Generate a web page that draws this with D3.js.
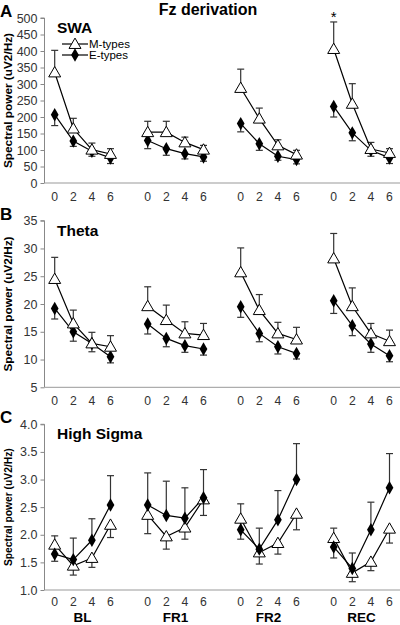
<!DOCTYPE html>
<html><head><meta charset="utf-8">
<script src="https://cdn.jsdelivr.net/npm/d3@7"></script>
<style>body{margin:0;background:#fff}svg{display:block}text{font-family:"Liberation Sans",Arial,sans-serif}</style>
</head><body>
<script>
const groups = ["BL","FR1","FR2","REC"];
const hours = ["0","2","4","6"];

const swaM    = [335,165,101,88, 154,154,123,101, 288,195,114,86, 406,240,103,91];
const swaMErr = [67,31,20,16, 33,33,16,13, 57,32,17,13, 82,61,20,13];
const swaE    = [207,127,96,76, 129,104,89,79, 180,119,81,71, 232,152,99,76];
const swaEErr = [33,16,15,17, 25,20,16,13, 25,20,12,13, 32,24,18,17];

const thM    = [24.5,16.5,12.9,12.3, 19.6,17.1,14.7,14.4, 25.7,18.9,14.7,13.6, 28.2,19.6,14.7,13.3];
const thMErr = [3.9,2.4,2.0,2.0, 3.5,2.7,2.1,2.1, 4.4,2.8,2.0,2.2, 4.5,3.3,1.8,2.0];
const thE    = [19.2,15.0,12.9,10.5, 16.4,13.8,12.5,11.9, 19.5,14.7,12.3,11.1, 20.6,16.1,12.8,10.7];
const thEErr = [1.9,1.7,1.5,1.1, 1.8,1.5,1.2,1.1, 1.9,1.5,1.3,1.0, 2.3,1.8,1.5,1.1];

const sgM    = [1.82,1.44,1.58,2.18, 2.36,1.97,2.13,2.64, 2.29,1.68,1.85,2.38, 1.94,1.31,1.51,2.11];
const sgMErr = [0.30,0.17,0.17,0.23, 0.34,0.23,0.21,0.29, 0.37,0.21,0.20,0.29, 0.36,0.16,0.16,0.26];
const sgE    = [1.65,1.55,1.90,2.54, 2.54,2.35,2.30,2.67, 2.09,1.74,2.27,3.00, 1.78,1.39,2.09,2.85];
const sgEErr = [0.33,0.39,0.39,0.53, 0.58,0.62,0.55,0.51, 0.47,0.38,0.53,0.65, 0.34,0.28,0.50,0.62];

const swaTicks = [0,50,100,150,200,250,300,350,400,450,500];
const thTicks = [5,10,15,20,25,30,35];
const sgTicks = [1.0,1.5,2.0,2.5,3.0,3.5,4.0];

const W = 400, H = 625;
const svg = d3.select("body").append("svg").attr("width", W).attr("height", H);

// category slot index: 5 slots per group (4 points + gap)
const slot = (g, h) => g * 5 + h;
const x = d3.scaleLinear().domain([0, 18]).range([54.7, 389.5]);

const panels = [
  {letter:"A", name:"SWA", top:18, bottom:183, domain:[0,500], ticks:swaTicks, fmt:d3.format("d"),
   M:swaM, Me:swaMErr, E:swaE, Ee:swaEErr, mUp:true, labelFont:11.8, legend:true, tickDy:17.5},
  {letter:"B", name:"Theta", top:220.7, bottom:387.3, domain:[5,35], ticks:thTicks, fmt:d3.format("d"),
   M:thM, Me:thMErr, E:thE, Ee:thEErr, mUp:true, labelFont:11.8, tickDy:17.5},
  {letter:"C", name:"High Sigma", top:424.3, bottom:590, domain:[1,4], ticks:sgTicks, fmt:d3.format(".1f"),
   M:sgM, Me:sgMErr, E:sgE, Ee:sgEErr, mUp:false, labelFont:10.3, groupLabels:true, tickDy:16}
];

const axisX = 44.5;
const tri = d3.symbol().type(d3.symbolTriangle).size(62);
const dia = d3.symbol().type(d3.symbolDiamond).size(52);

panels.forEach(p => {
  const y = d3.scaleLinear().domain(p.domain).range([p.bottom, p.top]);
  const g = svg.append("g");

  // y axis
  const ya = g.append("g").attr("transform", `translate(${axisX},0)`)
    .call(d3.axisLeft(y).tickValues(p.ticks).tickFormat(p.fmt).tickSize(4).tickPadding(3));
  ya.select(".domain").attr("stroke", "#888").attr("d", `M-4,${y(p.domain[1])}H0V${y(p.domain[0])}`);
  ya.selectAll(".tick line").attr("stroke", "#888");
  ya.selectAll(".tick text").attr("font-size", 12.5).attr("fill", "#333")
    .attr("font-family", "Liberation Sans, Arial, sans-serif");

  // x axis line
  g.append("line").attr("x1", axisX).attr("x2", W).attr("y1", p.bottom).attr("y2", p.bottom)
    .attr("stroke", "#999").attr("stroke-width", 1);

  // x tick labels
  groups.forEach((gn, gi) => {
    hours.forEach((h, hi) => {
      g.append("text").attr("x", x(slot(gi, hi))).attr("y", p.bottom + p.tickDy)
        .attr("text-anchor", "middle").attr("font-size", 12.2).attr("fill", "#333").text(h);
    });
    if (p.groupLabels) {
      g.append("text").attr("x", (x(slot(gi,0)) + x(slot(gi,3))) / 2).attr("y", p.bottom + 32)
        .attr("text-anchor", "middle").attr("font-size", 13.5).attr("font-weight", "bold").text(gn);
    }
  });

  // panel letter
  g.append("text").attr("x", 0).attr("y", p.top - 1).attr("font-size", 17).attr("font-weight", "bold").text(p.letter);

  // y label
  g.append("text").attr("transform", `translate(12,${(p.top + p.bottom) / 2}) rotate(-90)`)
    .attr("text-anchor", "middle").attr("font-size", p.labelFont).attr("font-weight", "bold")
    .text("Spectral power (uV2/Hz)");

  // panel name
  g.append("text").attr("x", 57).attr("y", p.top + 15).attr("font-size", 15.5).attr("font-weight", "bold").text(p.name);

  // build point data
  const pts = [];
  groups.forEach((gn, gi) => hours.forEach((h, hi) => {
    const k = gi * 4 + hi;
    pts.push({gi, hi, xs: x(slot(gi, hi)), m: p.M[k], me: p.Me[k], e: p.E[k], ee: p.Ee[k]});
  }));

  // error bars
  const cap = 3.5;
  pts.forEach(d => {
    const bars = [
      {v: d.m, end: p.mUp ? d.m + d.me : d.m - d.me},
      {v: d.e, end: p.mUp ? d.e - d.ee : d.e + d.ee}
    ];
    bars.forEach(b => {
      g.append("line").attr("x1", d.xs).attr("x2", d.xs).attr("y1", y(b.v)).attr("y2", y(b.end))
        .attr("stroke", "#333").attr("stroke-width", 1.2);
      g.append("line").attr("x1", d.xs - cap).attr("x2", d.xs + cap).attr("y1", y(b.end)).attr("y2", y(b.end))
        .attr("stroke", "#333").attr("stroke-width", 1.2);
    });
  });

  // lines per group
  const lineM = d3.line().x(d => d.xs).y(d => y(d.m));
  const lineE = d3.line().x(d => d.xs).y(d => y(d.e));
  groups.forEach((gn, gi) => {
    const gp = pts.filter(d => d.gi === gi);
    g.append("path").attr("d", lineM(gp)).attr("fill", "none").attr("stroke", "#000").attr("stroke-width", 1.2);
    g.append("path").attr("d", lineE(gp)).attr("fill", "none").attr("stroke", "#000").attr("stroke-width", 1.2);
  });

  // markers
  const drawE = () => g.selectAll(null).data(pts).enter().append("path")
    .attr("d", dia).attr("transform", d => `translate(${d.xs},${y(d.e)})`).attr("fill", "#000");
  const drawM = () => g.selectAll(null).data(pts).enter().append("path")
    .attr("d", tri).attr("transform", d => `translate(${d.xs},${y(d.m) + 1})`)
    .attr("fill", "#fff").attr("stroke", "#000").attr("stroke-width", 1);
  if (p.mUp) { drawE(); drawM(); } else { drawM(); drawE(); }

  // legend
  if (p.legend) {
    const lg = g.append("g");
    [["M-types", "M", 44], ["E-types", "E", 55]].forEach(([lab, t, ly]) => {
      lg.append("line").attr("x1", 62).attr("x2", 88).attr("y1", ly).attr("y2", ly).attr("stroke", "#000").attr("stroke-width", 1.2);
      if (t === "M") lg.append("path").attr("d", tri).attr("transform", `translate(75,${ly + 1})`)
        .attr("fill", "#fff").attr("stroke", "#000");
      else lg.append("path").attr("d", dia).attr("transform", `translate(75,${ly})`).attr("fill", "#000");
      lg.append("text").attr("x", 89).attr("y", ly + 4).attr("font-size", 11.5).text(lab);
    });
  }
});

// title
svg.append("text").attr("x", 208).attr("y", 15).attr("text-anchor", "middle")
  .attr("font-size", 16).attr("font-weight", "bold").text("Fz derivation");

// significance star above REC M-type at hour 0
svg.append("text").attr("x", x(slot(3, 0))).attr("y", 22).attr("text-anchor", "middle")
  .attr("font-size", 15).text("*");
</script>
</body></html>
